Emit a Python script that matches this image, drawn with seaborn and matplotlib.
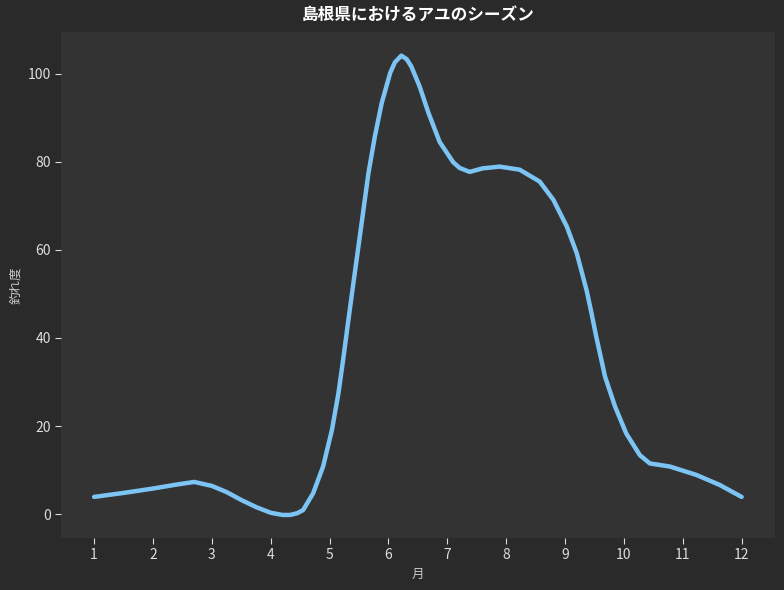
import pandas as pd
import matplotlib
matplotlib.use("Agg")
import matplotlib.pyplot as plt
import seaborn as sns

# values (month, catch index)
months = [1.0, 1.5, 2.0, 2.4, 2.7, 3.0, 3.25, 3.5, 3.75, 4.0, 4.2, 4.33, 4.45,
          4.55, 4.72, 4.89, 5.04, 5.15, 5.23, 5.32, 5.40, 5.545, 5.66, 5.77,
          5.885, 6.03, 6.11, 6.22, 6.31, 6.39, 6.53, 6.68, 6.87, 7.10, 7.21,
          7.38, 7.6, 7.89, 8.23, 8.57, 8.80, 9.03, 9.20, 9.37, 9.45, 9.53,
          9.68, 9.85, 10.04, 10.27, 10.44, 10.78, 11.23, 11.63, 12.0]
catch = [3.9, 4.8, 5.8, 6.7, 7.3, 6.4, 5.0, 3.2, 1.6, 0.3, -0.2, -0.2, 0.2,
         0.9, 4.7, 10.8, 19.1, 27.4, 35.0, 44.1, 52.0, 66.1, 77.4, 85.8,
         93.3, 100.2, 102.6, 104.1, 103.3, 101.6, 97.1, 91.1, 84.5, 79.9, 78.6,
         77.7, 78.5, 78.9, 78.2, 75.5, 71.4, 65.3, 59.2, 50.6, 45.6, 40.3,
         31.2, 24.4, 18.3, 13.4, 11.5, 10.8, 8.9, 6.6, 3.9]
month_ticks = list(range(1, 13))

df = pd.DataFrame({"月": months, "釣れ度": catch})

sns.set_theme(style="dark")
plt.rcParams["font.family"] = ["Noto Sans CJK JP", "DejaVu Sans"]

fig, ax = plt.subplots(figsize=(7.84, 5.9), dpi=100)
fig.patch.set_facecolor("#2a2a2a")
ax.set_facecolor("#333333")

line = sns.lineplot(data=df, x="月", y="釣れ度", color="#7cc4f4", linewidth=3.2, ax=ax)
line.lines[0].set_solid_joinstyle("round")

ax.set_xlim(0.44, 12.56)
ax.set_ylim(-5.45, 109.5)
ax.set_xticks(month_ticks)
ax.set_yticks([0, 20, 40, 60, 80, 100])
for s in ax.spines.values():
    s.set_visible(False)
ax.tick_params(colors="#dddddd", labelsize=10, length=4, width=0.8, direction="out",
               bottom=True, left=True)
ax.set_xlabel("月", color="#cccccc", fontsize=9)
ax.set_ylabel("釣れ度", color="#cccccc", fontsize=9)
ax.set_title("島根県におけるアユのシーズン", color="white", fontsize=12, fontweight="bold", pad=8)

plt.subplots_adjust(left=0.078, right=0.988, top=0.946, bottom=0.088)
plt.savefig("out.png", dpi=100, facecolor=fig.get_facecolor())
